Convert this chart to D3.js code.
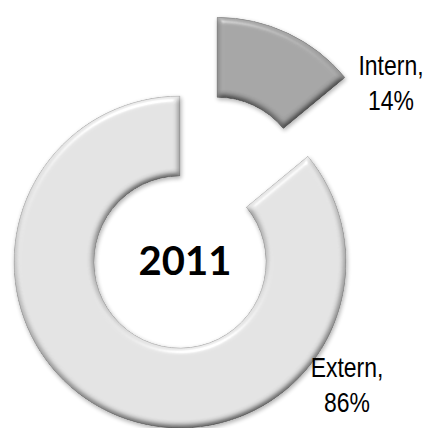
<!DOCTYPE html>
<html>
<head>
<meta charset="utf-8">
<script src="https://cdn.jsdelivr.net/npm/d3@7"></script>
<style>
  html, body { margin: 0; padding: 0; background: #fff; }
  svg { display: block; }
</style>
</head>
<body>
<svg id="chart" width="428" height="428"></svg>
<script>
const categories = ['Intern', 'Extern'];
const values = [14, 86];
const percentLabels = ['14%', '86%'];
const centerTitle = '2011';

const size = { width: 428, height: 428 };
const center = { x: 180, y: 262 };
const outerR = 166, innerR = 86;
const explode = { Intern: 87, Extern: 0 };
const colors = { Intern: '#a4a4a4', Extern: '#e2e2e2' };
const edgeColors = { Intern: '#7e7e7e', Extern: '#a8a8a8' };

const svg = d3.select('#chart');

// bevel + shadow filter (light from above)
const defs = svg.append('defs');
const f = defs.append('filter').attr('id', 'bevel')
  .attr('x', '-10%').attr('y', '-10%').attr('width', '120%').attr('height', '120%');
f.append('feGaussianBlur').attr('in', 'SourceAlpha').attr('stdDeviation', 3).attr('result', 'blur');
const diff = f.append('feDiffuseLighting').attr('in', 'blur').attr('surfaceScale', 5)
  .attr('diffuseConstant', 1.155).attr('lighting-color', '#fff').attr('result', 'diff');
diff.append('feDistantLight').attr('azimuth', 255).attr('elevation', 60);
const spec = f.append('feSpecularLighting').attr('in', 'blur').attr('surfaceScale', 5)
  .attr('specularConstant', 0.6).attr('specularExponent', 25).attr('lighting-color', '#fff').attr('result', 'spec');
spec.append('feDistantLight').attr('azimuth', 255).attr('elevation', 35);
f.append('feComposite').attr('in', 'SourceGraphic').attr('in2', 'diff')
  .attr('operator', 'arithmetic').attr('k1', 1).attr('k2', 0).attr('k3', 0).attr('k4', 0).attr('result', 'lit');
f.append('feComposite').attr('in', 'spec').attr('in2', 'SourceAlpha').attr('operator', 'in').attr('result', 'specIn');
f.append('feComposite').attr('in', 'lit').attr('in2', 'specIn')
  .attr('operator', 'arithmetic').attr('k1', 0).attr('k2', 1).attr('k3', 0.5).attr('k4', 0).attr('result', 'shaded');
f.append('feComposite').attr('in', 'shaded').attr('in2', 'SourceAlpha').attr('operator', 'in').attr('result', 'final');
f.append('feGaussianBlur').attr('in', 'SourceAlpha').attr('stdDeviation', 2).attr('result', 'sblur');
f.append('feOffset').attr('in', 'sblur').attr('dx', 1).attr('dy', 2).attr('result', 'soff');
f.append('feComponentTransfer').attr('in', 'soff').attr('result', 'shadow')
  .append('feFuncA').attr('type', 'linear').attr('slope', 0.3);
const merge = f.append('feMerge');
merge.append('feMergeNode').attr('in', 'shadow');
merge.append('feMergeNode').attr('in', 'final');

const pie = d3.pie().sort(null).value(d => d.value);
const arcs = pie(categories.map((c, i) => ({ name: c, value: values[i], label: percentLabels[i] })));
const arc = d3.arc().innerRadius(innerR).outerRadius(outerR);

const g = svg.append('g').attr('transform', `translate(${center.x},${center.y})`);

g.selectAll('path.slice')
  .data(arcs)
  .enter()
  .append('path')
  .attr('class', 'slice')
  .attr('d', arc)
  .attr('fill', d => colors[d.data.name])
  .attr('stroke', d => edgeColors[d.data.name])
  .attr('stroke-width', 0.8)
  .attr('filter', 'url(#bevel)')
  .attr('transform', d => {
    const mid = (d.startAngle + d.endAngle) / 2;
    const off = explode[d.data.name];
    return `translate(${off * Math.sin(mid)},${-off * Math.cos(mid)})`;
  });

// center title
g.append('text')
  .attr('x', 5).attr('y', 13)
  .attr('text-anchor', 'middle')
  .style('font-family', 'Lato, "Open Sans", sans-serif')
  .style('font-weight', 'bold')
  .style('font-size', '40px')
  .attr('fill', '#000')
  .text(centerTitle);

// data labels, narrow sans (Liberation Sans squeezed horizontally)
const labelPos = { Intern: [391, 75], Extern: [347, 377] };
const squeeze = 0.82;
arcs.forEach(d => {
  const [lx, ly] = labelPos[d.data.name];
  const t = svg.append('text')
    .attr('transform', `translate(${lx},${ly}) scale(${squeeze},1)`)
    .attr('text-anchor', 'middle')
    .style('font-family', '"Liberation Sans", Arial, sans-serif')
    .style('font-size', '28px')
    .attr('fill', '#000');
  t.append('tspan').attr('x', 0).attr('y', 0).text(d.data.name + ',');
  t.append('tspan').attr('x', 0).attr('y', 35).text(d.data.label);
});
</script>
</body>
</html>
